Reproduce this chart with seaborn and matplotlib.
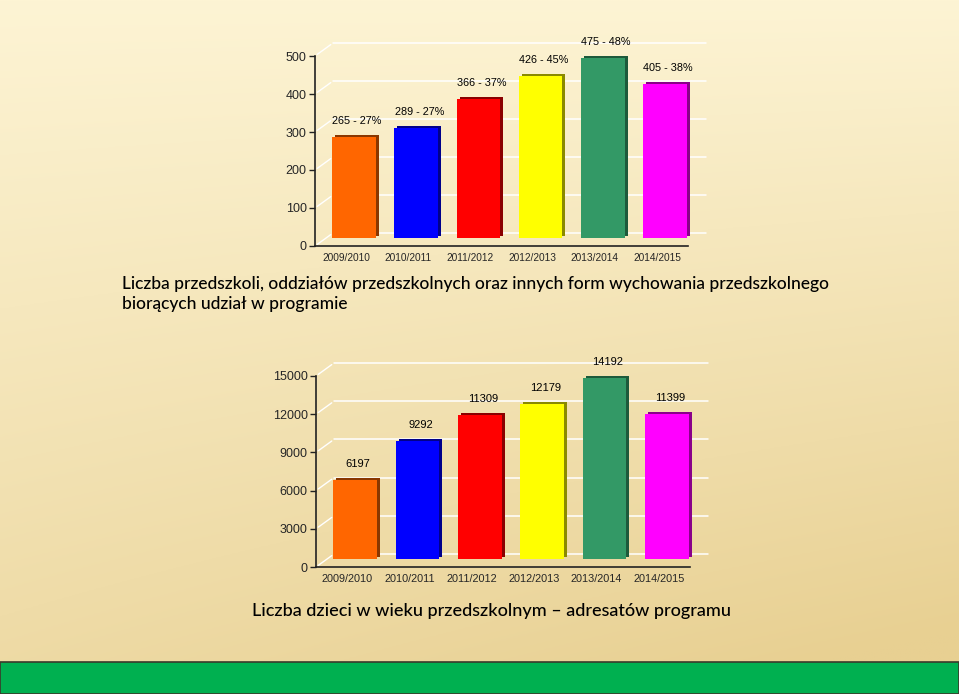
import numpy as np
import matplotlib
matplotlib.use('Agg')
import matplotlib.pyplot as plt
import matplotlib.transforms as mtransforms
from matplotlib.patches import Rectangle
import seaborn as sns

# ─────────────────────────────────────────────
# DATA
# ─────────────────────────────────────────────
years = ['2009/2010', '2010/2011', '2011/2012', '2012/2013', '2013/2014', '2014/2015']
institutions = [265, 289, 366, 426, 475, 405]
inst_pct = ['27%', '27%', '37%', '45%', '48%', '38%']
children = [6197, 9292, 11309, 12179, 14192, 11399]

title_top = ('Liczba przedszkoli, oddziałów przedszkolnych oraz innych form wychowania przedszkolnego\n'
             'biorących udział w programie')
title_bottom = 'Liczba dzieci w wieku przedszkolnym – adresatów programu'

COLORS = ['#FF6600', '#0000FF', '#FF0000', '#FFFF00', '#339966', '#FF00FF']
DARK = ['#8A3700', '#00008A', '#8A0000', '#8A8A00', '#1D5A3B', '#8A008A']

sns.set_theme(style='white')
plt.rcParams['font.family'] = ['Liberation Sans', 'DejaVu Sans']

fig = plt.figure(figsize=(9.59, 6.94), dpi=100)

# ─────────────────────────────────────────────
# BACKGROUND
# ─────────────────────────────────────────────
bg = fig.add_axes([0, 0, 1, 1], zorder=-10)
yy, xx = np.mgrid[0:1:300j, 0:1:400j]
t = np.clip(0.75 * yy + 0.35 * xx * yy, 0, 1)
top_c = np.array([253, 244, 212]) / 255
bot_c = np.array([232, 208, 146]) / 255
img = top_c[None, None, :] * (1 - t[..., None]) + bot_c[None, None, :] * t[..., None]
bg.imshow(img, aspect='auto', extent=[0, 1, 0, 1], origin='upper')
bg.axis('off')

fig.add_artist(Rectangle((0, 0), 1, 32 / 694, transform=fig.transFigure,
                         facecolor='#00B050', edgecolor='#3a3a2a', linewidth=1.2))


def draw_chart(rect, values, ymax, step, labels, xfs, yfs, lfs):
    ax = fig.add_axes(rect)
    ax.set_facecolor('none')
    back = mtransforms.offset_copy(ax.transData, fig=fig, x=18, y=13, units='dots')

    # back-wall grid lines and left-wall diagonals
    ticks = np.arange(0, ymax + 1, step)
    for v in ticks:
        ax.plot([-0.5, 5.5], [v, v], color='white', lw=1.1, transform=back,
                clip_on=False, zorder=1)
        ax.annotate('', xy=(-0.5, v), xytext=(18, 13), textcoords='offset pixels',
                    arrowprops=dict(arrowstyle='-', color='white', lw=1.0), zorder=1)

    # 3D-like bars: dark side first, then front face
    sns.barplot(x=years, y=values, hue=years, palette=DARK, legend=False,
                width=0.7, saturation=1, ax=ax, zorder=2)
    n_side = len(ax.patches)
    sns.barplot(x=years, y=values, hue=years, palette=COLORS, legend=False,
                width=0.7, saturation=1, ax=ax, zorder=3)
    side_tr = mtransforms.offset_copy(ax.transData, fig=fig, x=11, y=10, units='dots')
    front_tr = mtransforms.offset_copy(ax.transData, fig=fig, x=8, y=8, units='dots')
    for i, p in enumerate(ax.patches):
        p.set_transform(side_tr if i < n_side else front_tr)
        p.set_clip_on(False)
        p.set_edgecolor('none')

    for i, (v, lab) in enumerate(zip(values, labels)):
        ax.annotate(lab, (i, v), xytext=(11, 24), textcoords='offset pixels',
                    ha='center', va='center', fontsize=lfs, color='black')

    ax.set_xlim(-0.5, 5.5)
    ax.set_ylim(0, ymax)
    ax.set_yticks(ticks)
    ax.set_yticklabels([f'{int(v)}' for v in ticks], fontsize=yfs)
    ax.set_xticks(range(6))
    ax.set_xticklabels(years, fontsize=xfs)
    ax.set_xticks(np.arange(-0.5, 6, 1), minor=True)
    ax.tick_params(axis='x', which='major', length=0, pad=5)
    ax.tick_params(axis='x', which='minor', length=4, width=1, color='#222222', direction='out')
    ax.tick_params(axis='y', length=4, width=1, color='#222222', direction='out', pad=2, left=True)
    ax.set_xlabel('')
    ax.set_ylabel('')
    for s in ['top', 'right']:
        ax.spines[s].set_visible(False)
    for s in ['left', 'bottom']:
        ax.spines[s].set_color('#222222')
        ax.spines[s].set_linewidth(1.2)
    return ax


# ─────────────────────────────────────────────
# TOP CHART
# ─────────────────────────────────────────────
top_labels = [f'{v} - {p}' for v, p in zip(institutions, inst_pct)]
draw_chart([315 / 959, (694 - 246) / 694, 373 / 959, 190 / 694],
           institutions, 500, 100, top_labels, 7.3, 9, 7.8)

fig.text(122 / 959, 1 - 294 / 694, title_top, ha='left', va='center',
         fontsize=12.5, family=['Lato', 'DejaVu Sans'], fontweight='medium',
         color='black', linespacing=1.25)

# ─────────────────────────────────────────────
# BOTTOM CHART
# ─────────────────────────────────────────────
draw_chart([316 / 959, (694 - 567) / 694, 374 / 959, 191 / 694],
           children, 15000, 3000, [str(v) for v in children], 7.8, 9, 8)

fig.text(491 / 959, 1 - 611 / 694, title_bottom, ha='center', va='center',
         fontsize=13, family=['Lato', 'DejaVu Sans'], fontweight='medium', color='black')

plt.savefig('out.png', dpi=100)
plt.close()
